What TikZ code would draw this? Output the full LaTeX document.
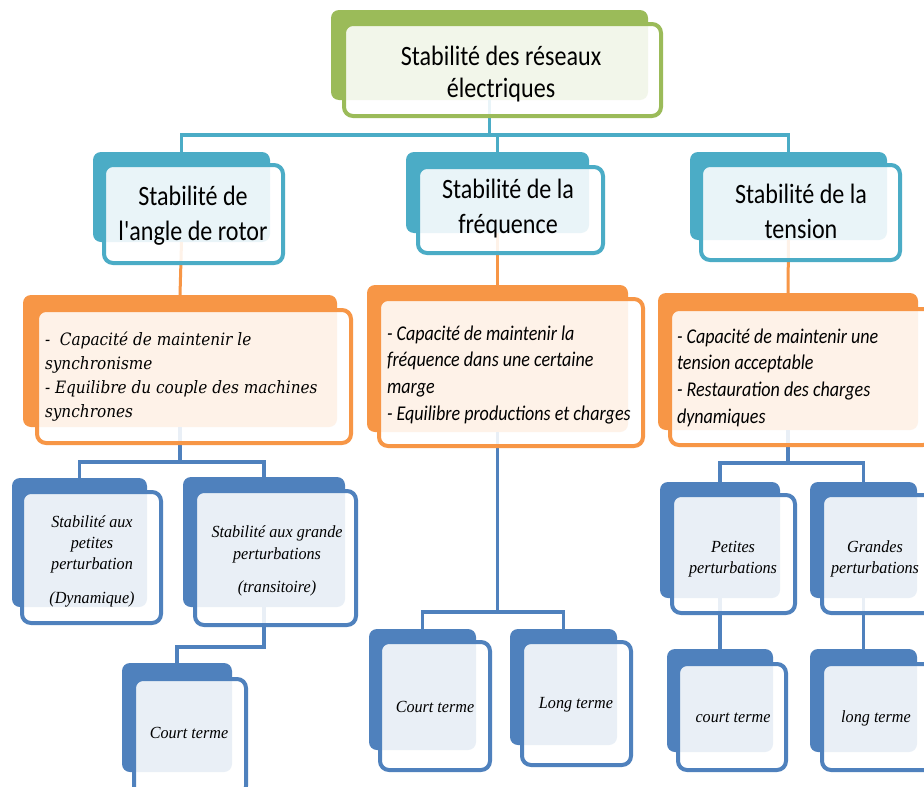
\documentclass[tikz,border=0pt]{standalone}
\usepackage{fontspec}
\setmainfont{Carlito}
\newfontfamily\hdfont[FakeStretch=0.86]{Carlito}
\newfontfamily\orfont[FakeStretch=0.86]{Carlito}
\newfontfamily\olfont[FakeStretch=0.9]{DejaVu Serif}
\newfontfamily\btfont[FakeStretch=0.95]{Liberation Serif}
\definecolor{cgreen}{HTML}{9BBB59}
\definecolor{cteal}{HTML}{4BACC6}
\definecolor{corange}{HTML}{F79646}
\definecolor{cblue}{HTML}{4F81BD}
\tikzset{
  backbox/.style={rounded corners=8pt, inner sep=0pt, outer sep=0pt, draw=none},
  frontbox/.style={rounded corners=9pt, fill=white, fill opacity=0.88, line width=4pt, inner sep=0pt, outer sep=0pt},
  conn/.style={line width=3.5pt},
  txt/.style={inner sep=0pt, outer sep=0pt, text=black}
}
\newcommand\mkback[6]{\node[backbox, fill=#2, minimum width={#5-#3}, minimum height={#6-#4}] (#1) at ({(#3+#5)/2},{(#4+#6)/2}) {};}
\newcommand\mkfront[6]{\node[frontbox, draw=#2, minimum width={#5-#3-4}, minimum height={#6-#4-4}] (#1) at ({(#3+#5)/2},{(#4+#6)/2}) {};}
\newcommand\ctext[5]{\node[txt, anchor=base] (#1) at (#2,#3) {\parbox[t]{#4}{\centering #5}};}
\newcommand\ltext[5]{\node[txt, anchor=base west] (#1) at (#2,#3) {\parbox[t]{#4}{\raggedright #5}};}
\begin{document}
\begin{tikzpicture}[x=1pt,y=-1pt]
\fill[white] (0,0) rectangle (924,787);
\useasboundingbox (0,0) rectangle (924,787);

% ---------- back boxes ----------
\mkback{titleb}{cgreen}{331}{10}{648}{100}
\mkback{b1b}{cteal}{93}{152}{270}{242}
\mkback{b2b}{cteal}{406}{152}{589}{233}
\mkback{b3b}{cteal}{690}{152}{887}{240}
\mkback{o1b}{corange}{23}{295}{337}{427}
\mkback{o2b}{corange}{367}{285}{628}{432}
\mkback{o3b}{corange}{658}{293}{918}{430}
\mkback{ab}{cblue}{12}{478}{147}{607}
\mkback{bb}{cblue}{183}{477}{345}{607}
\mkback{cb}{cblue}{122}{663}{232}{772}
\mkback{db}{cblue}{369}{629}{476}{750}
\mkback{eb}{cblue}{510}{629}{617}{745}
\mkback{fb}{cblue}{660}{482}{780}{598}
\mkback{gb}{cblue}{810}{482}{917}{598}
\mkback{hb}{cblue}{667}{649}{773}{752}
\mkback{ib}{cblue}{810}{649}{917}{752}

% ---------- connectors ----------
\begin{scope}[conn]
\draw[cteal] (titleb.south) -- (titleb.south |- 0,135) coordinate (hub);
\draw[cteal] (hub) -| (b1b.north);
\draw[cteal] (hub) -| (b2b.north);
\draw[cteal] (hub) -| (b3b.north);
\draw[corange, line width=3pt] (b1b.south) -- (o1b.north);
\draw[corange, line width=3pt] (b2b.south) -- (o2b.north);
\draw[corange, line width=3pt] (b3b.south) -- (o3b.north);
\draw[cblue] (o1b.south) -- (o1b.south |- 0,462) coordinate (h1);
\draw[cblue] (h1) -| (ab.north);
\draw[cblue] (h1) -| (bb.north);
\draw[cblue] (bb.south) -- (bb.south |- 0,647) -| (cb.north);
\draw[cblue] (o2b.south) -- (o2b.south |- 0,612) coordinate (h2);
\draw[cblue] (h2) -| (db.north);
\draw[cblue] (h2) -| (eb.north);
\draw[cblue] (o3b.south) -- (o3b.south |- 0,463) coordinate (h3);
\draw[cblue] (h3) -| (fb.north);
\draw[cblue] (h3) -| (gb.north);
\draw[cblue] (fb.south) -- (hb.north);
\draw[cblue] (gb.south) -- (ib.north);
\end{scope}

% ---------- front boxes ----------
\mkfront{title}{cgreen}{342}{22}{663}{118}
\mkfront{b1}{cteal}{102}{163}{285}{265}
\mkfront{b2}{cteal}{416}{165}{605}{255}
\mkfront{b3}{cteal}{699}{163}{902}{262}
\mkfront{o1}{corange}{35}{308}{353}{445}
\mkfront{o2}{corange}{377}{297}{645}{448}
\mkfront{o3}{corange}{668}{307}{934}{447}
\mkfront{a}{cblue}{20}{490}{163}{625}
\mkfront{b}{cblue}{193}{489}{358}{627}
\mkfront{c}{cblue}{132}{677}{248}{797}
\mkfront{d}{cblue}{378}{640}{492}{772}
\mkfront{e}{cblue}{520}{640}{633}{767}
\mkfront{f}{cblue}{670}{493}{797}{615}
\mkfront{g}{cblue}{820}{493}{936}{615}
\mkfront{h}{cblue}{676}{662}{788}{772}
\mkfront{i}{cblue}{820}{662}{936}{772}

% ---------- texts ----------
\ctext{tt}{501}{65}{300pt}{\hdfont\fontsize{28}{32}\selectfont Stabilité des réseaux\\électriques}
\ctext{t1}{193}{205}{200pt}{\hdfont\fontsize{28}{35}\selectfont Stabilité de\\l'angle de rotor}
\ctext{t2}{508}{198}{200pt}{\hdfont\fontsize{28}{35}\selectfont Stabilité de la\\fréquence}
\ctext{t3}{801}{203}{200pt}{\hdfont\fontsize{28}{35}\selectfont Stabilité de la\\tension}

\ltext{to1}{45}{345}{310pt}{\olfont\itshape\fontsize{17}{24.3}\selectfont -\ \ Capacité de maintenir le\\synchronisme\\- Equilibre du couple des machines\\synchrones}
\ltext{to2}{387}{340}{260pt}{\orfont\itshape\fontsize{21}{26.7}\selectfont - Capacité de maintenir la\\fréquence dans une certaine\\marge\\- Equilibre productions et charges}
\ltext{to3}{677}{343}{250pt}{\orfont\itshape\fontsize{21}{26.7}\selectfont - Capacité de maintenir une\\tension acceptable\\- Restauration des charges\\dynamiques}

\ctext{ta}{92}{527}{140pt}{\btfont\itshape\fontsize{17}{21}\selectfont Stabilité aux\\petites\\perturbation\\[13pt](Dynamique)}
\ctext{tb}{277}{537}{160pt}{\btfont\itshape\fontsize{17}{22}\selectfont Stabilité aux grande\\perturbations\\[11pt](transitoire)}
\ctext{tc}{189}{738}{110pt}{\btfont\itshape\fontsize{17}{21}\selectfont Court terme}
\ctext{td}{435}{712}{110pt}{\btfont\itshape\fontsize{17}{21}\selectfont Court terme}
\ctext{te}{576}{708}{110pt}{\btfont\itshape\fontsize{17}{21}\selectfont Long terme}
\ctext{tf}{733}{552}{120pt}{\btfont\itshape\fontsize{17}{21}\selectfont Petites\\perturbations}
\ctext{tg}{875}{552}{120pt}{\btfont\itshape\fontsize{17}{21}\selectfont Grandes\\perturbations}
\ctext{th}{733}{722}{110pt}{\btfont\itshape\fontsize{17}{21}\selectfont court terme}
\ctext{ti}{876}{722}{110pt}{\btfont\itshape\fontsize{17}{21}\selectfont long terme}
\end{tikzpicture}
\end{document}
